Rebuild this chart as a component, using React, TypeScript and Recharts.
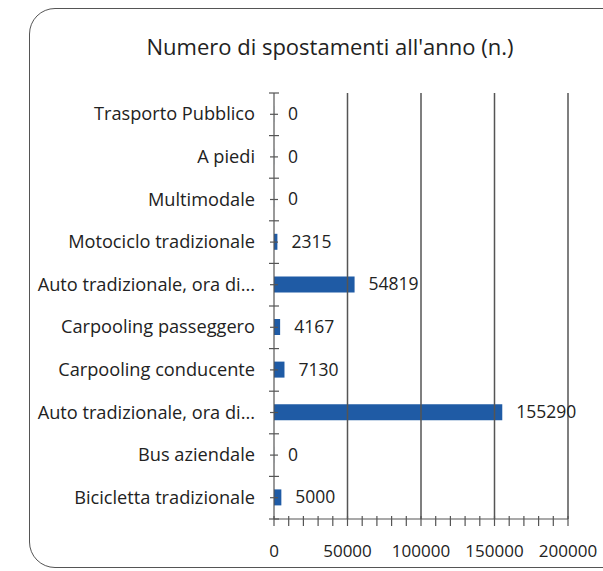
import React from 'react'
import { BarChart, Bar, XAxis, YAxis, ReferenceLine, LabelList } from 'recharts'

const categories = [
  'Trasporto Pubblico',
  'A piedi',
  'Multimodale',
  'Motociclo tradizionale',
  'Auto tradizionale, ora di...',
  'Carpooling passeggero',
  'Carpooling conducente',
  'Auto tradizionale, ora di...',
  'Bus aziendale',
  'Bicicletta tradizionale',
]
const trips = [0, 0, 0, 2315, 54819, 4167, 7130, 155290, 0, 5000]

const xTicks = [
  0, 10000, 20000, 30000, 40000, 50000, 60000, 70000, 80000, 90000, 100000,
  110000, 120000, 130000, 140000, 150000, 160000, 170000, 180000, 190000, 200000,
]
const majorTicks = [0, 50000, 100000, 150000, 200000]
const gridLines = [50000, 100000, 150000, 200000]

const title = "Numero di spostamenti all'anno (n.)"

const FONT = '"Open Sans", sans-serif'
const AXIS = '#555'
const BAR = '#1f5ba5'
const TEXT = '#222'
const BAND = (519 - 93) / categories.length

const data = categories.map((name, i) => ({ id: i, name, value: trips[i] }))

function YTick(props: any) {
  const { x, y, payload, index } = props
  const ax = x + 20
  return (
    <g>
      <line x1={ax - 4} x2={ax + 4} y1={y} y2={y} stroke={AXIS} strokeWidth={1.2} />
      <line x1={ax - 5} x2={ax + 5} y1={y - BAND / 2} y2={y - BAND / 2} stroke={AXIS} strokeWidth={1.2} />
      {index === categories.length - 1 && (
        <line x1={ax - 5} x2={ax + 5} y1={y + BAND / 2} y2={y + BAND / 2} stroke={AXIS} strokeWidth={1.2} />
      )}
      <text x={x + 1} y={y} dy={6} textAnchor="end" fontSize={18.2} fill={TEXT} fontFamily={FONT}>
        {categories[payload.value]}
      </text>
    </g>
  )
}

function XTick(props: any) {
  const { x, y, payload } = props
  const major = majorTicks.includes(payload.value)
  return (
    <g>
      <line x1={x} x2={x} y1={y - 5} y2={y + 5} stroke={AXIS} strokeWidth={1.2} />
      {major && (
        <text x={x} y={y + 36} textAnchor="middle" fontSize={17} fill={TEXT} fontFamily={FONT}>
          {payload.value}
        </text>
      )}
    </g>
  )
}

function ValueLabel(props: any) {
  const { x, y, width, height, value } = props
  return (
    <text
      x={x + width + 14}
      y={y + height / 2}
      dy={6}
      fontSize={17.5}
      fill={TEXT}
      fontFamily={FONT}
    >
      {value}
    </text>
  )
}

export default function App() {
  return (
    <div
      style={{
        position: 'absolute',
        left: 0,
        top: 0,
        width: 603,
        height: 571,
        overflow: 'hidden',
        background: '#fff',
        fontFamily: FONT,
      }}
    >
      <div
        style={{
          position: 'absolute',
          left: 29,
          top: 8,
          width: 640,
          height: 558,
          border: '1.5px solid #555',
          borderRadius: 26,
        }}
      />
      <div
        style={{
          position: 'absolute',
          left: 80,
          width: 500,
          top: 31,
          textAlign: 'center',
          fontSize: 22,
          color: TEXT,
        }}
      >
        {title}
      </div>
      <div style={{ position: 'absolute', left: 0, top: 0 }}>
        <BarChart
          layout="vertical"
          width={603}
          height={571}
          data={data}
          margin={{ top: 93, right: 35, left: 0, bottom: 0 }}
        >
          <XAxis
            type="number"
            domain={[0, 200000]}
            ticks={xTicks}
            interval={0}
            height={52}
            axisLine={{ stroke: AXIS, strokeWidth: 1.2 }}
            tickLine={false}
            tickSize={0}
            tick={<XTick />}
          />
          <YAxis
            type="category"
            dataKey="id"
            width={274}
            axisLine={{ stroke: AXIS, strokeWidth: 1.2 }}
            tickLine={false}
            tickSize={0}
            tickMargin={20}
            interval={0}
            tick={<YTick />}
          />
          {gridLines.map((v) => (
            <ReferenceLine key={v} x={v} stroke={AXIS} strokeWidth={1.5} />
          ))}
          <Bar dataKey="value" fill={BAR} barSize={16} minPointSize={0.1} isAnimationActive={false}>
            <LabelList dataKey="value" content={<ValueLabel />} />
          </Bar>
        </BarChart>
      </div>
    </div>
  )
}
